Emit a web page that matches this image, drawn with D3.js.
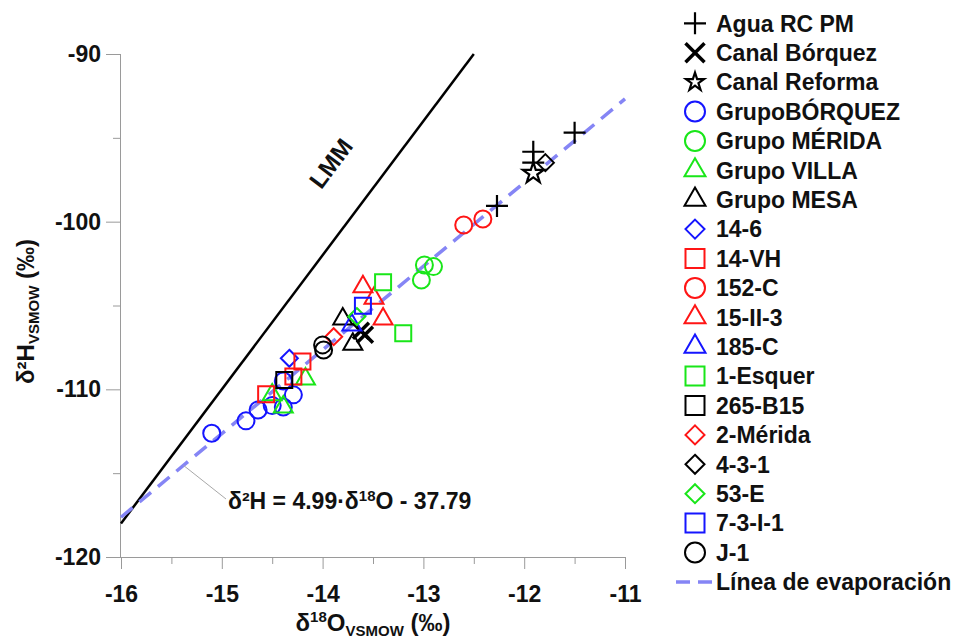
<!DOCTYPE html>
<html>
<head>
<meta charset="utf-8">
<script src="https://cdn.jsdelivr.net/npm/d3@7"></script>
<style>
  html, body { margin: 0; padding: 0; background: #fff; }
  svg { display: block; font-family: "Liberation Sans", Arial, sans-serif; }
</style>
</head>
<body>
<svg id="chart" width="961" height="641"></svg>
<script>
// Isotope samples: δ18O (x) and δ2H (y), ‰ VSMOW
const seriesNames = ["Agua RC PM", "Canal Bórquez", "Canal Reforma", "GrupoBÓRQUEZ", "Grupo MÉRIDA",
  "Grupo VILLA", "Grupo MESA", "14-6", "14-VH", "152-C", "15-II-3", "185-C", "1-Esquer",
  "265-B15", "2-Mérida", "4-3-1", "53-E", "7-3-I-1", "J-1"];
const seriesShapes = ["plus", "times", "star", "circle", "circle", "triangle", "triangle", "diamond",
  "square", "circle", "triangle", "triangle", "square", "square", "diamond", "diamond", "diamond",
  "square", "circle"];
const seriesColors = ["#000000", "#000000", "#000000", "#1515ff", "#19e619", "#19e619", "#000000",
  "#1515ff", "#ff1515", "#ff1515", "#ff1515", "#1515ff", "#19e619", "#000000", "#ff1515",
  "#000000", "#19e619", "#1515ff", "#000000"];
const d18O = [
  [-11.50, -11.91, -11.91, -12.27],
  [-13.62, -13.58],
  [-11.91],
  [-15.10, -14.76, -14.64, -14.50, -14.39, -14.29, -14.39],
  [-12.99, -12.90, -13.02],
  [-14.50, -14.39, -14.17],
  [-13.80, -13.70],
  [-14.33],
  [-14.56, -14.29, -14.20],
  [-12.60, -12.41],
  [-13.60, -13.49, -13.40],
  [-13.71],
  [-13.40, -13.20],
  [-14.38],
  [-13.89],
  [-11.79],
  [-13.66],
  [-13.60],
  [-14.00, -13.99]
];
const d2H = [
  [-94.69, -95.83, -96.48, -99.06],
  [-106.50, -106.75],
  [-97.11],
  [-112.62, -111.88, -111.23, -110.97, -111.05, -110.33, -109.50],
  [-102.58, -102.68, -103.48],
  [-110.33, -111.05, -109.38],
  [-105.80, -107.31],
  [-108.15],
  [-110.30, -109.23, -108.34],
  [-100.20, -99.84],
  [-103.88, -104.57, -105.80],
  [-106.16],
  [-103.61, -106.66],
  [-109.44],
  [-106.86],
  [-96.48],
  [-105.66],
  [-105.01],
  [-107.35, -107.65]
];
const xTicks = [-16, -15, -14, -13, -12, -11];
const yTicks = [-90, -100, -110, -120];
// Local meteoric line (LMM): δ2H = 8·δ18O + 10; evaporation line: δ2H = 4.99·δ18O − 37.79
const lmmSlope = 8, lmmIntercept = 10;
const evapSlope = 4.99, evapIntercept = -37.79;
const evapLabel = "Línea de evaporación";

const svg = d3.select("#chart");
const plot = { left: 121, right: 625, top: 54, bottom: 557 };
const x = d3.scaleLinear().domain([-16, -11]).range([plot.left, plot.right]);
const y = d3.scaleLinear().domain([-120, -90]).range([plot.bottom, plot.top]);
const plainNumber = d => String(d);

// ----- axes -----
const axisColor = "#9a9a9a";
const xAxis = svg.append("g").attr("transform", `translate(0,${plot.bottom})`)
  .call(d3.axisBottom(x).tickValues(xTicks).tickSize(12).tickPadding(17).tickFormat(plainNumber));
const xMinor = svg.append("g").attr("transform", `translate(0,${plot.bottom})`)
  .call(d3.axisBottom(x).tickValues(d3.range(-15.5, -11, 1)).tickSize(7).tickFormat(""));
const yAxis = svg.append("g").attr("transform", `translate(${plot.left},0)`)
  .call(d3.axisLeft(y).tickValues(yTicks).tickSize(15).tickPadding(5).tickFormat(plainNumber));
const yMinor = svg.append("g").attr("transform", `translate(${plot.left},0)`)
  .call(d3.axisLeft(y).tickValues([-95, -105, -115]).tickSize(8).tickFormat(""));
[xAxis, xMinor, yAxis, yMinor].forEach(g => {
  g.select(".domain").attr("stroke", axisColor).attr("stroke-width", 1);
  g.selectAll(".tick line").attr("stroke", axisColor).attr("stroke-width", 1);
  g.selectAll(".tick text").attr("fill", "#111").attr("font-size", 23).attr("font-weight", "bold")
    .attr("font-family", "'Liberation Sans', Arial, sans-serif");
});
xMinor.select(".domain").remove();
yMinor.select(".domain").remove();
xAxis.select(".domain").attr("d", `M${plot.left},0.5H${plot.right}`);
yAxis.select(".domain").attr("d", `M-0.5,${plot.top}V${plot.bottom}`);

// ----- axis titles -----
const yTitle = svg.append("text")
  .attr("transform", `translate(34,${(plot.top + plot.bottom) / 2 + 6}) rotate(-90)`)
  .attr("text-anchor", "middle").attr("font-size", 24).attr("font-weight", "bold").attr("fill", "#111");
yTitle.append("tspan").text("δ²H");
yTitle.append("tspan").attr("font-size", 15).attr("dy", 5).text("VSMOW");
yTitle.append("tspan").attr("dy", -5).text(" (‰)");

const xTitle = svg.append("text")
  .attr("x", (plot.left + plot.right) / 2).attr("y", 631)
  .attr("text-anchor", "middle").attr("font-size", 24).attr("font-weight", "bold").attr("fill", "#111");
xTitle.append("tspan").text("δ");
xTitle.append("tspan").attr("font-size", 15).attr("dy", -9).text("18");
xTitle.append("tspan").attr("dy", 9).text("O");
xTitle.append("tspan").attr("font-size", 15).attr("dy", 5).text("VSMOW");
xTitle.append("tspan").attr("dy", -5).text(" (‰)");

// ----- reference lines -----
const lmmX1 = (-90 - lmmIntercept) / lmmSlope;
svg.append("line")
  .attr("x1", x(-16)).attr("y1", y(lmmSlope * -16 + lmmIntercept))
  .attr("x2", x(lmmX1)).attr("y2", y(-90))
  .attr("stroke", "#000").attr("stroke-width", 2.5);

svg.append("line")
  .attr("x1", x(-16)).attr("y1", y(evapSlope * -16 + evapIntercept))
  .attr("x2", x(-11)).attr("y2", y(evapSlope * -11 + evapIntercept))
  .attr("stroke", "#8585f5").attr("stroke-width", 3.5).attr("stroke-dasharray", "15,9");

// LMM label along the line
const lmmAngle = Math.atan2(y(-90) - y(-118), x(lmmX1) - x(-16)) * 180 / Math.PI;
svg.append("text")
  .attr("transform", `translate(${x(-13.85)},${y(-97.3) - 8}) rotate(${lmmAngle})`)
  .attr("text-anchor", "middle").attr("font-size", 24).attr("font-weight", "bold").attr("fill", "#111")
  .text("LMM");

// equation label with leader line
const leaderX = -15.38;
svg.append("line")
  .attr("x1", x(leaderX)).attr("y1", y(evapSlope * leaderX + evapIntercept))
  .attr("x2", 226).attr("y2", 499)
  .attr("stroke", "#a8a8a8").attr("stroke-width", 1);
const eq = svg.append("text").attr("x", 228).attr("y", 509)
  .attr("font-size", 23).attr("font-weight", "bold").attr("fill", "#111");
eq.append("tspan").text("δ²H = 4.99·δ");
eq.append("tspan").attr("font-size", 15).attr("dy", -8).text("18");
eq.append("tspan").attr("dy", 8).text("O - 37.79");

// ----- symbol paths -----
function shapePath(shape, s) {
  switch (shape) {
    case "circle": return d3.symbol(d3.symbolCircle, Math.PI * s * s)();
    case "square": return d3.symbol(d3.symbolSquare, 4 * s * s)();
    case "diamond": return `M0,${-s}L${s},0L0,${s}L${-s},0Z`;
    case "triangle": {
      const h = s * Math.sqrt(3);
      return `M0,${-h * 2 / 3}L${s},${h / 3}L${-s},${h / 3}Z`;
    }
    case "plus": return `M${-s},0H${s}M0,${-s}V${s}`;
    case "times": return `M${-s},${-s}L${s},${s}M${-s},${s}L${s},${-s}`;
    case "star": return d3.symbol(d3.symbolStar, s * s / 0.8908130915292852)();
  }
}
const plotSize = { circle: 8.5, square: 8, diamond: 8.5, triangle: 9.5, plus: 11, times: 8, star: 11 };
const legendSize = { circle: 10, square: 9.5, diamond: 9.5, triangle: 10.5, plus: 11, times: 9.5, star: 9.5 };
const strokeW = { plus: 2.2, times: 3.5, star: 2.2 };

function styleMark(sel, i) {
  const shape = seriesShapes[i];
  sel.attr("fill", shape === "star" ? "#fff" : "none")
    .attr("stroke", seriesColors[i])
    .attr("stroke-width", strokeW[shape] || 2)
    .attr("stroke-linejoin", "miter");
}

// ----- data points -----
seriesNames.forEach((name, i) => {
  const pts = d18O[i].map((v, k) => [v, d2H[i][k]]);
  svg.append("g").attr("class", "series")
    .selectAll("path").data(pts).join("path")
    .attr("transform", d => `translate(${x(d[0])},${y(d[1])})`)
    .attr("d", shapePath(seriesShapes[i], plotSize[seriesShapes[i]]))
    .call(styleMark, i);
});

// ----- legend -----
const legendX = 695, legendTextX = 716, legendY0 = 23.3, legendStep = 29.4;
const legend = svg.append("g");
seriesNames.forEach((name, i) => {
  const row = legend.append("g").attr("transform", `translate(0,${legendY0 + i * legendStep})`);
  row.append("path").attr("transform", `translate(${legendX},0)`)
    .attr("d", shapePath(seriesShapes[i], legendSize[seriesShapes[i]]))
    .call(styleMark, i);
  row.append("text").attr("x", legendTextX).attr("y", 0).attr("dy", "0.36em")
    .attr("font-size", 23).attr("font-weight", "bold").attr("fill", "#111").text(name);
});
const evapRow = legend.append("g").attr("transform", `translate(0,${legendY0 + seriesNames.length * legendStep})`);
evapRow.append("line").attr("x1", 676).attr("x2", 712).attr("y1", 0).attr("y2", 0)
  .attr("stroke", "#8585f5").attr("stroke-width", 3.5).attr("stroke-dasharray", "14,8");
evapRow.append("text").attr("x", legendTextX).attr("y", 0).attr("dy", "0.36em")
  .attr("font-size", 23).attr("font-weight", "bold").attr("fill", "#111").text(evapLabel);
</script>
</body>
</html>
